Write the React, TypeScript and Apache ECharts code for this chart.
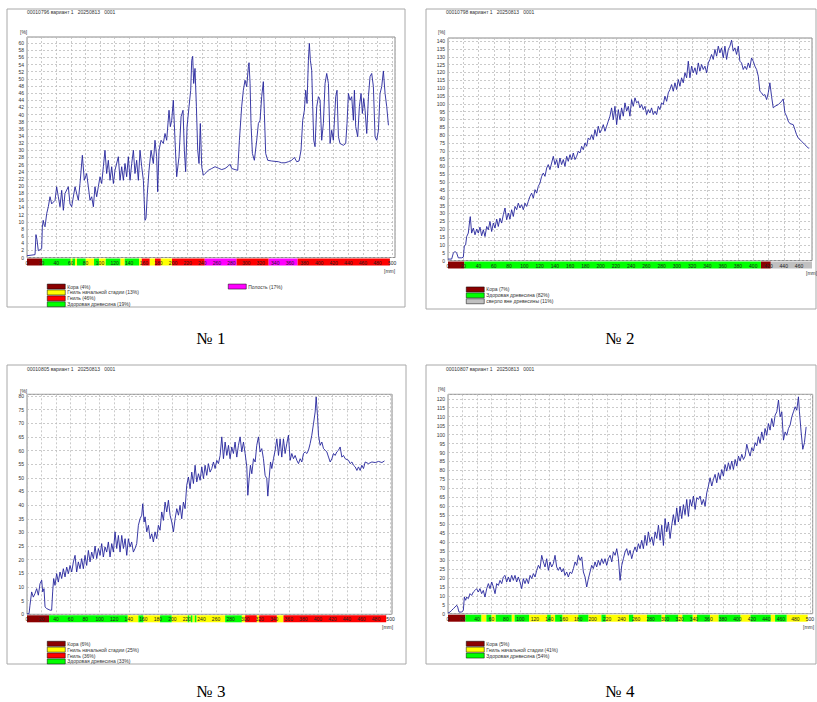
import React, { useEffect, useRef } from 'react';
import * as echarts from 'echarts';

// ---------- data: resistance curves [mm, %] ----------
const curve1: number[][] = [[0,0.5],[11,0.8],[12.3,6.4],[13.7,5],[15.5,1.9],[20.1,2.5],[21,8.5],[22.2,10.4],[23.7,9],[24.7,8.6],[27,12.3],[29.2,14.2],[31.5,17],[33.8,15],[38.4,16],[40.6,19.8],[42.9,17],[45.2,14.2],[47.5,18.8],[49.8,13.2],[52,17.9],[56.6,19.8],[58.9,15],[61.2,14.2],[65.8,19.8],[70.3,16],[72.6,20.7],[75.8,28.6],[78.5,21.6],[81.7,23.5],[84,19.8],[86.3,16],[88.6,17],[90.9,14.2],[93.1,19.8],[95.4,17],[97.7,19.8],[100,22.6],[102.3,20.7],[104.6,25.4],[106.8,30],[109.1,23.5],[111.4,27.2],[113.7,21.6],[116,25.4],[118.3,20.7],[120.5,24.4],[125.1,28.2],[127.4,21.6],[129.7,25.4],[132,21.6],[134.2,26.3],[136.5,22.6],[138.8,28.2],[141.1,21.6],[143.4,26.3],[145.7,30],[147.9,23.5],[150.2,27.2],[152.5,21.6],[154.8,30],[157.1,25.4],[159.4,21.6],[161.6,10.4],[163,11],[164.8,17.9],[167.1,24.4],[169.9,30],[173,26.3],[175.3,32.8],[177.6,28.2],[179,18.4],[180.8,30],[183.6,32.8],[186.7,31.9],[189,34.7],[191.3,32.8],[194.5,41.2],[196.3,36.6],[198.2,38.4],[200.4,44],[202.7,32.8],[205,22.6],[208.2,28.2],[211,39.4],[213.7,41.2],[215.5,30],[217.3,24],[219.2,36.6],[221.9,42.2],[224.2,46.8],[225.6,55.2],[226.9,56.3],[228.3,48.7],[230.1,52.9],[232,42.2],[233.8,30],[235.6,26.3],[237.4,37.5],[239.3,25.4],[241.5,23],[243.8,23.5],[248.4,24.4],[253,24.9],[257.5,25.4],[262.1,25],[266.7,24.6],[271.2,24.9],[275.8,25.6],[278.1,26.1],[280.4,24.9],[284.9,24.6],[288.6,24.4],[290.9,32.8],[294,42.2],[296.3,46.8],[298.6,49.6],[300.9,47.8],[303.2,53.4],[304.1,54.5],[305.5,48.7],[306.8,37.5],[308.7,29.1],[311.4,27.2],[314.6,32.8],[316.9,37.5],[319.2,38.4],[321.4,45],[323.7,49.2],[325.1,40.3],[326.9,29.1],[329.7,27.2],[335.1,27],[344.3,26.8],[348.8,26.5],[353.4,26.5],[358,26.8],[362.5,27.2],[366.2,28],[369.4,26.8],[372.6,27],[375.3,30],[377.6,38.4],[379.9,41.2],[381.7,46.8],[383.5,43.1],[385.4,55.2],[386.7,59.9],[388.1,55.2],[389.9,52.4],[391.3,42.2],[392.7,32.8],[394.5,31],[396.8,42.2],[399.1,45],[401.4,44],[403.6,32.8],[405.9,37.5],[408.2,48.7],[410.5,51.5],[412.8,48.7],[415.1,31.9],[417.3,35.6],[419.6,32.8],[422.8,45],[424.6,46.8],[426.5,33.8],[428.7,31.9],[433.3,31.4],[436.5,31.9],[438.3,37.5],[440.2,45.9],[442.4,44],[444.7,45],[447,38.4],[448.4,46.8],[450.2,36.6],[452.9,33.8],[455.2,42.2],[457.5,45.9],[459.3,40.3],[461.2,44.5],[463,41.2],[465.3,34.7],[467.6,45],[469.8,50.6],[472.1,51.5],[474.4,47.8],[476.7,33.8],[479,32.8],[481.3,35.6],[483.5,45.9],[485.8,47.8],[488.1,52.2],[490.4,45.9],[492.7,42.2],[495,37]];

const curve2: number[][] = [[0,0.9],[4.8,0.9],[7,4.7],[9.2,5.8],[11.4,4.7],[13.5,1.7],[17.9,1.7],[20.1,2.1],[21.4,9.4],[23.1,10],[24.5,15.3],[26.6,17.5],[28.8,27],[29.2,28],[31,17.5],[33.2,20.7],[35.4,16.4],[37.6,20],[39.7,17.5],[41.9,21.3],[44.1,15.8],[46.3,19.6],[48.5,15.3],[50.7,21.7],[52.8,19.6],[55,24.9],[57.2,18.5],[59.4,23.9],[61.6,20.7],[63.8,26.4],[65.9,21.7],[68.1,27],[70.3,23.9],[72.5,29.2],[74.7,33.5],[76.9,26],[79,30.3],[81.2,26.4],[83.4,32.4],[85.6,28.1],[87.8,34.5],[90,32.4],[92.1,36.6],[94.3,33.5],[96.5,35.6],[98.7,32.4],[100.9,36.6],[103.1,34.5],[105.2,37.7],[107.4,40.9],[109.6,43],[111.8,39.8],[114,45.2],[116.2,43],[118.3,47.3],[120.5,49.4],[122.7,53.7],[124.9,55.8],[127.1,53.7],[129.3,59],[131.4,61.2],[133.6,58],[135.8,62.2],[138,66.5],[140.2,61.2],[142.4,64.4],[144.5,59],[146.7,65.4],[148.9,61.2],[151.1,64.4],[153.3,60.1],[155.5,66.5],[157.6,63.3],[159.8,67.5],[162,64.4],[164.2,68.6],[166.4,64.4],[168.6,66.5],[170.7,69.7],[172.9,68.6],[175.1,72.9],[177.3,70.7],[179.5,75],[181.7,72.9],[183.8,78.2],[186,77.1],[188.2,80.3],[190.4,77.1],[192.6,83.5],[194.8,79.3],[196.9,85.7],[199.1,81.4],[201.3,83.5],[203.5,86.7],[205.7,82.5],[207.9,85.7],[210,88.9],[212.2,92.1],[214.4,97.4],[216.6,89.9],[218.8,98.4],[221,86.7],[223.2,96.3],[225.3,89.9],[227.5,97.4],[229.7,92.1],[231.9,100.6],[234.1,95.3],[236.3,98.4],[238.4,92.1],[240.6,102.7],[242.8,98.4],[245,103.8],[247.2,100.6],[249.4,101.6],[251.5,97.4],[253.7,99.5],[255.9,96.3],[258.1,98.4],[260.3,93.1],[262.5,96.3],[264.6,94.2],[266.8,97.4],[269,93.1],[271.2,95.3],[273.4,93.1],[275.6,98.4],[277.7,96.3],[279.9,100.6],[282.1,99.5],[284.3,104.8],[286.5,101.6],[288.7,107],[290.8,109.1],[293,112.3],[295.2,108],[297.4,113.4],[299.6,109.1],[301.8,115.5],[303.9,111.2],[306.1,116.6],[308.3,113.4],[310.5,119.8],[312.7,116.6],[314.9,127.2],[317,116.6],[319.2,124],[321.4,119.8],[323.6,123],[325.8,118.7],[328,126.1],[330.1,120.8],[332.3,125.1],[334.5,121.9],[336.7,124],[338.9,119.8],[341.1,126.1],[343.2,128.3],[345.4,131.5],[347.6,128.3],[349.8,134.7],[352,130.4],[354.2,136.8],[356.3,132.5],[358.5,135.7],[360.7,129.3],[362.9,136.8],[365.1,128.3],[367.3,134.7],[369.4,136.8],[371.6,140.6],[373.8,133.6],[376,135.7],[378.2,131.5],[380.4,136.8],[382.5,127.2],[384.7,126.1],[386.9,121.9],[389.1,124],[391.3,121.9],[393.5,126.1],[395.6,123],[397.8,129.3],[400,127.2],[402.2,124],[404.4,121.9],[406.6,117.6],[408.7,108],[410.9,107],[413.1,105.3],[415.3,105.9],[417.5,102.7],[419.7,107],[421.8,113.4],[424,104.8],[426.2,97.4],[428.4,98.4],[432.8,99.5],[437.1,101.6],[439.3,103.1],[441.5,94.2],[443.7,92.1],[445.9,88.9],[448,87.4],[452.4,86.7],[454.6,83.5],[456.8,80.3],[459,78.2],[463.3,76.1],[467.7,73.9],[472.1,71.8],[473.4,71.8]];

const curve3: number[][] = [[0,0.2],[2.8,0.2],[4.1,3.3],[6.4,8.2],[8.7,6.3],[11,7.6],[13.3,9.4],[15.6,7],[17.9,11.2],[20.2,12.5],[21.6,8.2],[23.4,9.4],[24.8,2.7],[27.1,2.1],[31.7,1.5],[33.9,1.5],[35.3,8.2],[36.7,13.1],[38.5,10.6],[40.8,14.9],[43.1,11.8],[45.4,15.5],[47.7,13.1],[50,16.7],[52.3,13.7],[54.6,17.3],[56.9,14.9],[59.2,17.9],[61.5,15.5],[63.8,19.2],[66.1,21.6],[68.3,15.5],[70.6,19.2],[72.9,16.7],[75.2,20.4],[77.5,16.7],[79.8,21.6],[82.1,17.9],[84.4,23.4],[86.7,19.2],[89,22.8],[91.3,20.4],[93.6,25],[95.9,20.4],[98.2,24.1],[100.5,21.6],[102.7,25.9],[105,21],[107.3,24.7],[109.6,22.8],[111.9,26.5],[114.2,21],[116.5,25.9],[118.8,22.8],[121.1,30.2],[123.4,24.1],[125.7,28.9],[128,22.8],[130.3,28.9],[132.6,24.1],[134.9,27.7],[137.2,21.6],[139.4,27.7],[141.7,24.7],[144,26.5],[146.3,22.8],[148.6,24.1],[150.9,25.9],[153.2,32.6],[155.5,35],[157.8,36.3],[159.2,40.5],[161,33.8],[162.4,35.7],[164.7,30.2],[167,32.6],[169.3,27.7],[171.6,29.5],[173.8,26.5],[176.1,30.2],[178.4,27.7],[180.7,32.6],[183,30.8],[185.3,37.5],[187.6,34.4],[189.9,41.1],[192.2,37.5],[194.5,41.8],[196.8,36.3],[199.1,33.8],[201.4,30.2],[203.7,35],[206,38.7],[208.3,36.3],[210.5,39.9],[212.8,35],[215.1,41.1],[217.4,38.7],[219.7,47.3],[222,50.3],[224.3,46],[226.6,52.1],[228.9,47.9],[231.2,54.6],[233.5,48.5],[235.8,51.5],[238.1,49.1],[240.4,54],[242.7,49.7],[244.9,54.6],[247.2,50.9],[249.5,55.2],[251.8,52.1],[254.1,53.4],[256.4,55.8],[258.7,53.4],[261,56.4],[263.3,55.2],[265.6,58.2],[267.9,65],[270.2,57],[272.5,63.1],[274.8,58.2],[277.1,61.9],[279.3,57],[281.6,61.3],[283.9,58.9],[286.2,63.1],[288.5,57.6],[290.8,61.9],[293.1,65],[295.4,59.5],[297.7,63.1],[300,58.9],[302.3,54],[303.7,43.6],[305.5,49.7],[307.3,54.6],[309.2,51.5],[311.5,57],[313.8,55.8],[316,61.9],[318.3,65],[320.6,59.5],[322.9,60.7],[325.2,57],[327.5,50.9],[329.8,49.7],[331.2,43.3],[333,49.7],[334.9,55.8],[336.7,53.4],[339,57],[341.3,60.1],[343.6,64.3],[345.9,58.2],[348.1,64.3],[350.4,57.6],[352.7,64.3],[355,58.9],[357.3,62.5],[359.6,65.6],[361.9,56.4],[364.2,58.9],[366.5,57],[368.8,58.2],[371.1,56.4],[373.4,55.2],[375.7,57],[378,55.8],[380.3,58.9],[382.6,59.5],[384.9,58.9],[387.1,60.1],[389.4,62.5],[391.7,65.6],[394,69.8],[396.3,74.1],[397.7,79.6],[399.5,72.9],[400.9,65.6],[403.2,61.9],[405.5,63.1],[407.8,60.7],[410.1,60.1],[412.4,59.5],[414.7,57.6],[417,55.8],[419.3,57],[421.6,58.9],[423.8,58.2],[426.1,59.5],[428.4,60.1],[430.7,61.3],[433,57.6],[435.3,58.2],[437.6,57],[442.2,56.4],[444.5,55.2],[446.8,55.8],[449.1,54.6],[451.4,54],[453.7,52.7],[455.9,54],[458.2,52.7],[460.5,54.6],[462.8,53.4],[465.1,55.8],[469.7,55.2],[474.3,55.8],[478.9,55.6],[483.5,56],[488.1,55.6],[491.7,56.2]];

const curve4: number[][] = [[0,0.4],[2.8,0.9],[5.1,1.9],[7.4,2.8],[9.7,3.7],[12,4.7],[13.4,3.7],[15.2,0.9],[18.9,0.9],[21.2,1.9],[22.6,9.3],[24.4,7.5],[25.8,9.3],[28.1,8.4],[30.4,11.2],[32.7,10.2],[35,12.1],[37.3,13],[39.6,14],[41.9,12.1],[44.2,14],[46.5,11.2],[48.8,13],[51.1,9.3],[53.5,14],[55.8,16.8],[58.1,14],[60.4,17.7],[62.7,14.9],[65,11.2],[67.3,16.8],[69.6,15.8],[71.9,18.6],[74.2,16.8],[76.5,20.5],[78.8,21.4],[81.1,17.7],[83.4,20.5],[85.7,17.7],[88,21.4],[90.3,18.6],[92.6,21.4],[94.9,17.7],[97.2,20.5],[99.5,17.7],[101.8,14],[104.1,19.6],[106.4,16.8],[108.7,19.6],[111.1,16.8],[113.4,21.4],[115.7,19.6],[118,22.4],[120.3,20.5],[122.6,24.2],[124.9,27],[127.2,25.2],[129.5,32.6],[131.8,28.9],[134.1,26.1],[136.4,30.7],[138.7,24.2],[141,28.9],[143.3,26.1],[145.6,28],[147.9,32.6],[150.2,26.1],[152.5,24.2],[154.8,26.1],[157.1,23.3],[159.4,25.2],[161.7,21.4],[164,23.3],[166.3,20.5],[168.7,23.3],[171,22.4],[173.3,25.2],[175.6,28.9],[177.9,27],[180.2,32.6],[182.5,29.8],[184.8,31.7],[187.1,23.3],[189.4,20.5],[191.7,14.9],[194,19.6],[196.3,23.3],[198.6,27],[200.9,25.2],[203.2,28.9],[205.5,26.1],[207.8,29.8],[210.1,27],[212.4,30.7],[214.7,28],[217,30.7],[219.3,27],[221.6,30.7],[224,32.6],[226.3,28.9],[228.6,34.5],[230.9,32.6],[233.2,36.3],[235.5,30.7],[237.8,18.6],[240.1,27],[242.4,30.7],[244.7,34.5],[247,36.3],[249.3,32.6],[251.6,35.4],[253.9,30.7],[256.2,34.5],[258.5,37.3],[260.8,34.5],[263.1,39.1],[265.4,36.3],[267.7,41],[270,36.3],[272.3,43.8],[274.6,38.1],[276.9,45.7],[279.2,40.1],[281.6,42.9],[283.9,38.1],[286.2,45.7],[288.5,42],[290.8,49.4],[293.1,41],[295.4,49.4],[297.7,38.1],[300,53.1],[302.3,45.7],[304.6,51.2],[306.9,42],[309.2,49.4],[311.5,55.3],[313.8,49.4],[316.1,59.1],[318.4,51.2],[320.7,60],[323,53.1],[325.3,60.9],[327.6,55.3],[329.9,63.8],[332.2,54.3],[334.5,63.8],[336.8,60],[339.2,65.7],[341.5,58.2],[343.8,64.7],[346.1,63.8],[348.4,65.7],[350.7,60.9],[353,63.8],[355.3,60],[357.6,67.5],[359.9,71.3],[362.2,75.9],[364.5,71.3],[366.8,75],[369.1,77.8],[371.4,73.1],[373.7,78.7],[376,75],[378.3,80.5],[380.6,76.8],[382.9,83.3],[385.2,79.6],[387.5,84.3],[389.8,80.5],[392.1,85.2],[394.4,80.5],[396.8,86.1],[399.1,82.4],[401.4,88],[403.7,85.2],[406,89],[408.3,86.1],[410.6,88],[412.9,94.6],[415.2,90.8],[417.5,88],[419.8,92.7],[422.1,90.8],[424.4,95.5],[426.7,93.7],[429,98.8],[431.3,95.1],[433.6,101.5],[435.9,96.9],[438.2,103.4],[440.5,99.6],[442.8,106.2],[445.1,102.5],[447.4,109],[449.8,104.4],[452.1,110.9],[454.4,112.7],[456.7,119.3],[459,109.9],[461.3,112.7],[463.6,96.9],[465.9,101.5],[468.2,99.6],[470.5,103.4],[472.8,105.3],[475.1,109.9],[477.4,112.7],[479.7,115.5],[482,113.6],[484.3,121.1],[485.7,112.7],[488,101.5],[490.3,91.8],[492.6,95.5],[494.9,104.3]];

// ---------- data: zone strips [from mm, to mm] ----------
const p1Bark = [[0, 21]];
const p1Early = [[59.8, 62.1], [65.8, 68.5], [80.4, 91.8], [98.6, 107.8], [127.8, 133.8], [153.4, 157.1], [168, 175.3], [183.1, 198.6]];
const p1Rot = [[157.1, 168], [175.3, 183.1], [198.6, 243.4], [286.7, 331], [370.3, 497]];
const p1Healthy = [[21, 59.8], [62.1, 65.8], [68.5, 80.4], [91.8, 98.6], [107.8, 127.8], [133.8, 153.4]];
const p1Cavity = [[243.4, 286.7], [331, 370.3]];

const p2Bark = [[0, 21.4], [410, 423]];
const p2Healthy = [[21.4, 410]];
const p2Outside = [[423, 477]];

const p3Bark = [[0, 30.3]];
const p3Healthy = [[30.3, 138.5], [153.2, 160.1], [183, 199], [221, 223.3], [225.2, 227.5], [230.7, 233], [272.5, 295.4]];
const p3Early = [[138.5, 153.2], [160.1, 183], [199, 221], [223.3, 225.2], [227.5, 230.7], [233, 272.5], [295.4, 300], [316, 319.3], [343.6, 352.7]];
const p3Rot = [[300, 316], [319.3, 343.6], [352.7, 494]];

const p4Bark = [[0, 24]];
const p4Healthy = [[24, 46], [53, 60], [66, 88], [92, 112], [137, 142], [148, 158], [180, 194], [212, 218], [250, 256], [275, 295], [300, 318], [324, 338], [344, 362], [374, 404], [418, 446], [452, 468]];
const p4Early = [[46, 53], [60, 66], [88, 92], [112, 137], [142, 148], [158, 180], [194, 212], [218, 250], [256, 275], [295, 300], [318, 324], [338, 344], [362, 374], [404, 418], [446, 452], [468, 497]];

// ---------- labels ----------
const headers = ['00010796 вариант 1   20250813   0001', '00010798 вариант 1   20250813   0001', '00010805 вариант 1   20250813   0001', '00010807 вариант 1   20250813   0001'];
const titles = ['№ 1', '№ 2', '№ 3', '№ 4'];
const L1 = ['Кора (4%)', 'Гниль начальной стадии (13%)', 'Гниль (46%)', 'Здоровая древесина (19%)', 'Полость (17%)'];
const L2 = ['Кора (7%)', 'Здоровая древесина (82%)', 'сверло вне древесины (11%)'];
const L3 = ['Кора (6%)', 'Гниль начальной стадии (25%)', 'Гниль (36%)', 'Здоровая древесина (33%)'];
const L4 = ['Кора (5%)', 'Гниль начальной стадии (41%)', 'Здоровая древесина (54%)'];
const yMaxes = [61.7, 142, 80.6, 122.5];
const yIntervals = [2, 5, 5, 5];
const xMaxes = [504, 477, 502, 504];

const COL = { bark: '#8b0000', early: '#ffff00', rot: '#ff0000', healthy: '#00ff00', cavity: '#ff00ff', outside: '#c0c0c0' };
const FONT = 'Liberation Sans';

function strip(idx: number, name: string, color: string, segs: number[][]) {
  return {
    type: 'custom', name, xAxisIndex: idx, yAxisIndex: idx, z: 1, silent: true, clip: false,
    itemStyle: { color },
    data: segs.map((s) => [s[0], s[1], 0]),
    encode: { x: [0, 1], y: 2 },
    renderItem: (_p: any, api: any) => {
      const a = api.coord([api.value(0), 0]);
      const b = api.coord([api.value(1), 0]);
      return { type: 'rect', shape: { x: a[0], y: a[1] + 1, width: b[0] - a[0], height: 7 }, style: { fill: color } };
    },
  };
}

function line(idx: number, data: number[][]) {
  return {
    type: 'line', name: 'curve' + idx, xAxisIndex: idx, yAxisIndex: idx, data, z: 10, silent: true,
    symbol: 'none', showSymbol: false, lineStyle: { color: '#25259c', width: 0.9 },
  };
}

function legend(left: number, top: number, data: string[]) {
  return {
    orient: 'vertical', left, top, padding: 0, itemWidth: 18, itemHeight: 5, itemGap: 0.4, icon: 'rect',
    selectedMode: false, data,
    itemStyle: { borderColor: '#000', borderWidth: 0.5 },
    textStyle: { fontSize: 5, color: '#333', fontFamily: FONT, lineHeight: 5, padding: [0, 0, 0, -3] },
  };
}

const gridSplit = { show: true, lineStyle: { color: '#bdbdbd', type: [2, 2], width: 0.8 } };

export default function App() {
  const ref = useRef<HTMLDivElement>(null);
  useEffect(() => {
    if (!ref.current) return;
    const chart = echarts.init(ref.current, undefined, { renderer: 'svg' });
    const grids = [
      { left: 27, top: 37, width: 368, height: 220.5 },
      { left: 448, top: 38, width: 364, height: 222.5 },
      { left: 27, top: 394.3, width: 365, height: 220 },
      { left: 448, top: 394.3, width: 364.7, height: 219.4 },
    ].map((g) => ({ ...g, show: true, borderColor: '#8c8c8c', borderWidth: 1, backgroundColor: '#fff' }));

    const xAxis = xMaxes.map((max, i) => ({
      type: 'value', gridIndex: i, min: 0, max, interval: 20, z: 5,
      axisLine: { show: false }, axisTick: { show: false }, splitLine: gridSplit,
      axisLabel: { fontSize: 5, margin: 2.5, color: '#222', fontFamily: FONT, showMaxLabel: false },
    }));
    const yAxis = yMaxes.map((max, i) => ({
      type: 'value', gridIndex: i, min: 0, max, interval: yIntervals[i],
      axisLine: { show: false }, axisTick: { show: false }, splitLine: gridSplit,
      axisLabel: { fontSize: 5, margin: 3, color: '#333', fontFamily: FONT, showMaxLabel: false },
    }));

    const series: any[] = [
      strip(0, L1[0], COL.bark, p1Bark), strip(0, L1[1], COL.early, p1Early), strip(0, L1[2], COL.rot, p1Rot),
      strip(0, L1[3], COL.healthy, p1Healthy), strip(0, L1[4], COL.cavity, p1Cavity),
      strip(1, L2[0], COL.bark, p2Bark), strip(1, L2[1], COL.healthy, p2Healthy), strip(1, L2[2], COL.outside, p2Outside),
      strip(2, L3[0], COL.bark, p3Bark), strip(2, L3[1], COL.early, p3Early), strip(2, L3[2], COL.rot, p3Rot),
      strip(2, L3[3], COL.healthy, p3Healthy),
      strip(3, L4[0], COL.bark, p4Bark), strip(3, L4[1], COL.early, p4Early), strip(3, L4[2], COL.healthy, p4Healthy),
      line(0, curve1), line(1, curve2), line(2, curve3), line(3, curve4),
    ];

    const panels = [
      { x: 7, y: 9, w: 398, h: 298, hx: 27, hy: 12, px: 20, py: 32, mx: 384, my: 271, tx: 211, ty: 338 },
      { x: 426, y: 9, w: 390, h: 300, hx: 446, hy: 12, px: 438, py: 32, mx: 806, my: 273, tx: 620, ty: 338 },
      { x: 7, y: 365, w: 399, h: 299, hx: 27, hy: 369, px: 20, py: 391, mx: 382, my: 627, tx: 211, ty: 691 },
      { x: 426, y: 365, w: 390, h: 299, hx: 446, hy: 369, px: 438, py: 389, mx: 803, my: 627, tx: 620, ty: 691 },
    ];
    const graphic: any[] = [];
    panels.forEach((p, i) => {
      graphic.push({ type: 'rect', shape: { x: p.x, y: p.y, width: p.w, height: p.h }, style: { fill: 'none', stroke: '#a8a8a8', lineWidth: 1 }, z: -1 });
      graphic.push({ type: 'text', x: p.hx, y: p.hy, style: { text: headers[i], fontSize: 5, fontFamily: FONT, fill: '#333', align: 'left', verticalAlign: 'middle' } });
      graphic.push({ type: 'text', x: p.px, y: p.py, style: { text: '[%]', fontSize: 5, fontFamily: FONT, fill: '#333', align: 'left', verticalAlign: 'middle' } });
      graphic.push({ type: 'text', x: p.mx, y: p.my, style: { text: '[mm]', fontSize: 5, fontFamily: FONT, fill: '#333', align: 'left', verticalAlign: 'middle' } });
      graphic.push({ type: 'text', x: p.tx, y: p.ty, style: { text: titles[i], fontSize: 17, fontFamily: 'Liberation Serif', fill: '#000', align: 'center', verticalAlign: 'middle' } });
    });

    chart.setOption({
      animation: false,
      backgroundColor: '#fff',
      grid: grids,
      xAxis,
      yAxis,
      series,
      legend: [
        legend(47, 283.8, L1.slice(0, 4)),
        legend(228, 283.8, [L1[4]]),
        legend(466, 286.7, L2),
        legend(47, 641, L3),
        legend(466, 641, L4),
      ],
      graphic,
    });
    return () => chart.dispose();
  }, []);
  return <div ref={ref} style={{ position: 'fixed', left: 0, top: 0, width: 817, height: 702 }} />;
}
